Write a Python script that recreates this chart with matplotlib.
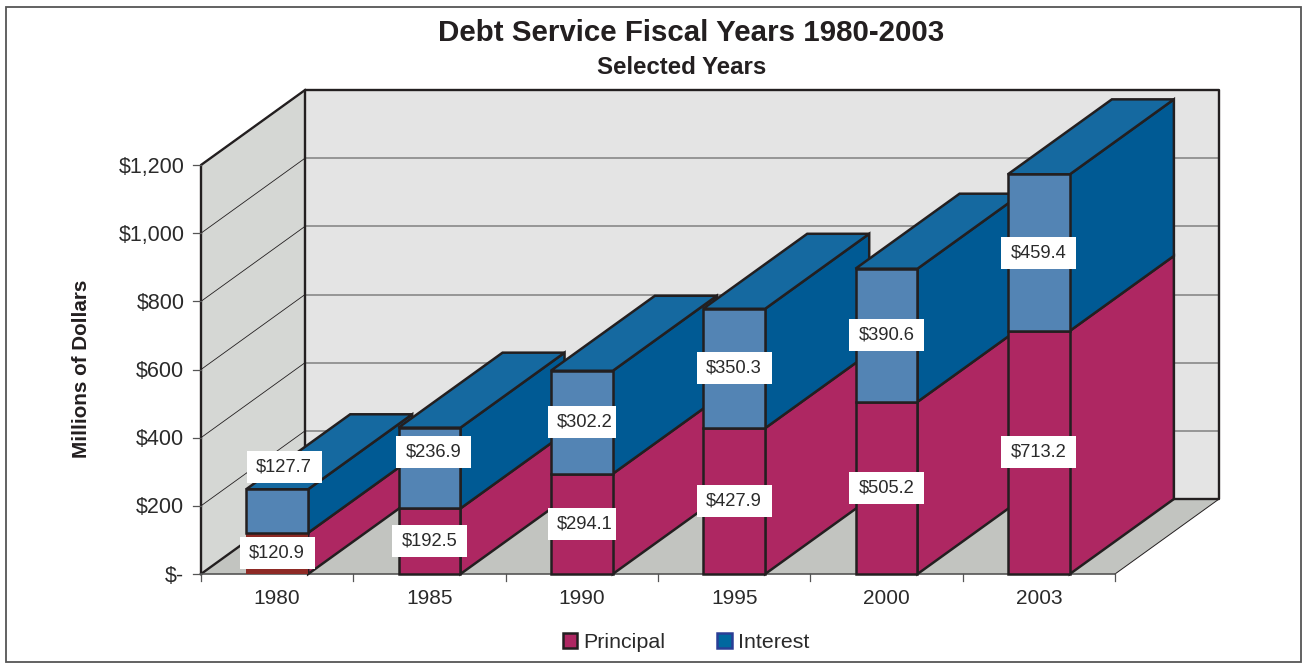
import matplotlib
matplotlib.use('Agg')
import matplotlib.pyplot as plt
from matplotlib.patches import Polygon, Rectangle, Patch

plt.rcParams['font.family'] = ['Liberation Sans', 'DejaVu Sans']

years = ['1980', '1985', '1990', '1995', '2000', '2003']
principal = [120.9, 192.5, 294.1, 427.9, 505.2, 713.2]
interest = [127.7, 236.9, 302.2, 350.3, 390.6, 459.4]
y_ticks = [0, 200, 400, 600, 800, 1000, 1200]
y_labels = ['$-', '$200', '$400', '$600', '$800', '$1,000', '$1,200']

INK = '#231f20'
TEXT = '#2a2a2a'
PINK = '#ae2762'
RED = '#8e2a25'
BLUE_FRONT = '#5384b4'
BLUE_SIDE = '#005a94'
BLUE_TOP = '#1569a0'
WALL_BACK = '#e4e4e4'
WALL_LEFT = '#d5d7d4'
FLOOR = '#c2c4c0'

# depth of the fake 3d box, in axis units
DX = 0.683
DY = 220
HALF = 0.2035
TOP = 1200
NCAT = len(years)

fig = plt.figure(figsize=(13.06, 6.64), dpi=100)
ax = fig.add_axes([201 / 1306, 90 / 664, 914 / 1306, 409 / 664])
ax.set_xlim(0, NCAT)
ax.set_ylim(0, TOP)
ax.axis('off')


def poly(pts, face='none', edge='none', lw=0, z=1):
    ax.add_patch(Polygon(pts, closed=True, facecolor=face, edgecolor=edge, linewidth=lw,
                         zorder=z, clip_on=False, joinstyle='miter'))


def line(xs, ys, color=INK, lw=1.8, z=2):
    ax.plot(xs, ys, color=color, lw=lw, zorder=z, clip_on=False, solid_capstyle='projecting')


# outer frame
fig.add_artist(Rectangle((5.5 / 1306, 2 / 664), 1295 / 1306, 655.5 / 664, transform=fig.transFigure,
                         facecolor='white', edgecolor='#555555', linewidth=1.3, zorder=-5))

# walls and floor
poly([(DX, DY), (NCAT + DX, DY), (NCAT + DX, TOP + DY), (DX, TOP + DY)], face=WALL_BACK)
poly([(0, 0), (DX, DY), (DX, TOP + DY), (0, TOP)], face=WALL_LEFT)
poly([(0, 0), (NCAT, 0), (NCAT + DX, DY), (DX, DY)], face=FLOOR)

# gridlines
for v in y_ticks[1:-1]:
    line([DX, NCAT + DX], [v + DY, v + DY], color='#808080', lw=1.1)
for v in y_ticks[1:]:
    line([0, DX], [v, v + DY], color=INK, lw=0.6)

line([DX, DX, NCAT + DX, NCAT + DX, DX], [DY, TOP + DY, TOP + DY, DY, DY], lw=1.7, z=3)
line([0, 0, DX], [0, TOP, TOP + DY], lw=1.7, z=3)
line([0, DX], [0, DY], lw=1.7, z=3)
line([NCAT, NCAT + DX], [0, DY], lw=0.7, z=3)

# x axis line and ticks
line([0, NCAT], [0, 0], color='#555555', lw=1.2, z=3)
for i in range(NCAT + 1):
    line([i, i], [0, -22], color='#555555', lw=0.9, z=3)
for v, lab in zip(y_ticks, y_labels):
    line([-0.05, 0], [v, v], color='#555555', lw=0.9, z=3)
    ax.annotate(lab, (0, v), xytext=(-12, -1.5), textcoords='offset points', ha='right', va='center',
                fontsize=15.5, color=TEXT, annotation_clip=False)
for i, y in enumerate(years):
    ax.text(i + 0.5, -72, y, ha='center', va='center', fontsize=15, color=TEXT)

# stacked boxes, left to right so the later ones hide the sides of the earlier ones
for i in range(NCAT):
    z = 10 + i
    x0, x1 = i + 0.5 - HALF, i + 0.5 + HALF
    p, t = principal[i], principal[i] + interest[i]
    poly([(x1, 0), (x1 + DX, DY), (x1 + DX, p + DY), (x1, p)], face=PINK, edge=INK, lw=1.8, z=z)
    poly([(x1, p), (x1 + DX, p + DY), (x1 + DX, t + DY), (x1, t)], face=BLUE_SIDE, edge=INK, lw=1.8, z=z)
    poly([(x0, t), (x1, t), (x1 + DX, t + DY), (x0 + DX, t + DY)], face=BLUE_TOP, edge=INK, lw=1.8, z=z)
    # 1980 principal is drawn flat, with no outline
    if i == 0:
        poly([(x0, 0), (x1, 0), (x1, p), (x0, p)], face=RED, z=z)
    else:
        poly([(x0, 0), (x1, 0), (x1, p), (x0, p)], face=PINK, edge=INK, lw=1.8, z=z)
    poly([(x0, p), (x1, p), (x1, t), (x0, t)], face=BLUE_FRONT, edge=INK, lw=1.8, z=z)


def value_label(x, y, value, half=0.246, shift=0):
    ax.add_patch(Rectangle((x - half, y - 47), 2 * half, 94, facecolor='white', edgecolor='none',
                           zorder=30, clip_on=False))
    ax.text(x + shift, y, '$%.1f' % value, ha='center', va='center', fontsize=13.2, color=TEXT, zorder=31)


for i in range(NCAT):
    cx = i + 0.5
    mid = principal[i] + interest[i] / 2
    # 1990 labels sit in narrower boxes
    if i == 2:
        value_label(cx, principal[i] / 2, principal[i], half=0.222, shift=0.016)
        value_label(cx, mid, interest[i], half=0.222, shift=0.016)
        continue
    value_label(cx, principal[i] / 2, principal[i])
    # the two short stacks have their interest labels pushed up and to the right
    if i == 0:
        value_label(cx + 0.046, mid + 129, interest[i])
    elif i == 1:
        value_label(cx + 0.026, mid + 47, interest[i])
    else:
        value_label(cx, mid, interest[i])

fig.text(691 / 1306, 1 - 33 / 664, 'Debt Service Fiscal Years 1980-2003', ha='center', va='center',
         fontsize=21.25, fontweight='bold', color=INK)
fig.text(681.5 / 1306, 1 - 67.5 / 664, 'Selected Years', ha='center', va='center',
         fontsize=17.3, fontweight='bold', color=INK)
fig.text(82 / 1306, 1 - 369 / 664, 'Millions of Dollars', rotation=90, ha='center', va='center',
         fontsize=14.9, fontweight='bold', color=INK)

handles = [Patch(facecolor=PINK, edgecolor=INK, linewidth=1.8, label='Principal'),
           Patch(facecolor='#00689f', edgecolor='#2a3e96', linewidth=1.8, label='Interest')]
fig.legend(handles=handles, loc='center', bbox_to_anchor=(686 / 1306, 1 - 642 / 664), ncol=2, frameon=False,
           fontsize=15.4, handlelength=0.68, handleheight=0.7, handletextpad=0.3, columnspacing=2.4,
           labelcolor=TEXT)

fig.savefig('out.png', dpi=100)
